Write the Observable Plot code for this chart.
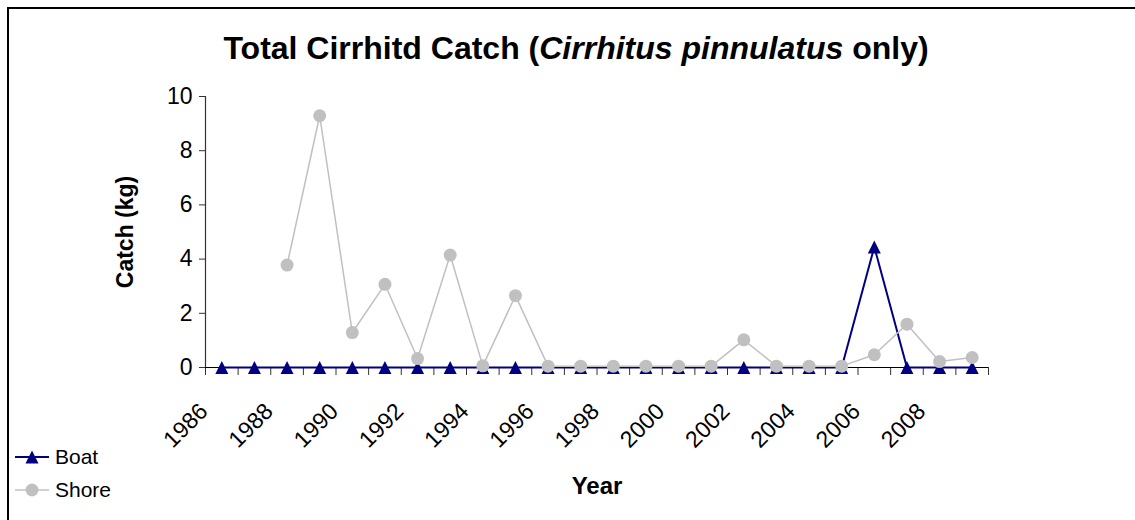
<!DOCTYPE html>
<html>
<head>
<meta charset="utf-8">
<script src="https://cdn.jsdelivr.net/npm/d3@7"></script>
<script src="https://cdn.jsdelivr.net/npm/@observablehq/plot@0.6"></script>
<style>
  html, body { margin: 0; padding: 0; background: #fff; }
  #wrap { position: relative; width: 1135px; height: 520px; overflow: hidden; font-family: "Liberation Sans", Arial, sans-serif; }
  #frame { position: absolute; left: 7px; top: 7px; width: 1200px; height: 600px; border-left: 2px solid #000; border-top: 2px solid #000; box-sizing: border-box; pointer-events: none; }
  #title { position: absolute; top: 0; left: 576px; transform: translateX(-50%); white-space: nowrap; height: 80px; line-height: 96px; font-size: 32px; font-weight: bold; color: #000; }
  #chart { position: absolute; left: 0; top: 80px; }
  #legend { position: absolute; left: 15px; top: 440px; font-size: 21px; color: #000; }
  .row { display: flex; align-items: center; height: 33px; }
  .row svg { margin-right: 6px; }
</style>
</head>
<body>
<div id="wrap">
  <div id="title">Total Cirrhitd Catch (<i>Cirrhitus pinnulatus</i> only)</div>
  <div id="chart"></div>
  <div id="legend"></div>
  <div id="frame"></div>
</div>
<script>
const years = d3.range(1986, 2010);
const boatValues = [0,0,0,0,0,0,0,0,0,0,0,0,0,0,0,0,0,0,0,0,4.45,0,0,0];
const shoreValues = [null,null,3.78,9.29,1.29,3.07,0.33,4.15,0.06,2.65,0.05,0.05,0.05,0.05,0.05,0.05,1.02,0.05,0.05,0.05,0.47,1.6,0.22,0.37];
const yTicks = [0, 2, 4, 6, 8, 10];
const xLabelYears = [1986,1988,1990,1992,1994,1996,1998,2000,2002,2004,2006,2008];
const seriesNames = ["Boat", "Shore"];
const seriesColors = ["#000080", "#C0C0C0"];

const boat = years.map((year, i) => ({year, value: boatValues[i]}));
const shore = years.map((year, i) => ({year, value: shoreValues[i]})).filter(d => d.value != null);
const boundaries = d3.range(years.length + 1).map(i => years[0] - 0.5 + i);

const triangle = {
  draw(context, size) {
    const r = Math.sqrt(size / Math.PI);
    context.moveTo(0, -r);
    context.lineTo(r, r);
    context.lineTo(-r, r);
    context.closePath();
  }
};

const chart = Plot.plot({
  width: 1135,
  height: 440,
  marginLeft: 205,
  marginRight: 147,
  marginTop: 16,
  marginBottom: 153,
  style: {fontFamily: "'Liberation Sans', Arial, sans-serif", color: "#000", background: "transparent"},
  x: {domain: [boundaries[0], boundaries[boundaries.length - 1]]},
  y: {domain: [0, 10]},
  marks: [
    Plot.ruleX([boundaries[0]], {stroke: "#333", strokeWidth: 1.2}),
    Plot.axisY({ticks: yTicks, tickSize: 6, tickPadding: 7, fontSize: 23, stroke: "#333", label: null}),
    Plot.axisX({ticks: boundaries, tickSize: 8, tickFormat: () => "", stroke: "#333", label: null}),
    Plot.axisX({ticks: xLabelYears, tickSize: 0, tickRotate: -45, tickPadding: 40, dx: -18, fontSize: 23, tickFormat: d => String(d), label: null}),
    Plot.ruleY([0], {stroke: "#000", strokeWidth: 1.2}),
    Plot.text(["Catch (kg)"], {frameAnchor: "left", textAnchor: "middle", rotate: -90, dx: -80, fontSize: 23, fontWeight: "bold"}),
    Plot.text(["Year"], {frameAnchor: "bottom", textAnchor: "middle", dy: 126, fontSize: 24, fontWeight: "bold"}),
    Plot.line(boat, {x: "year", y: "value", stroke: seriesColors[0], strokeWidth: 2}),
    Plot.dot(boat, {x: "year", y: "value", symbol: triangle, r: 6.5, fill: seriesColors[0], stroke: "none"}),
    Plot.line(shore, {x: "year", y: "value", stroke: seriesColors[1], strokeWidth: 1.5}),
    Plot.dot(shore, {x: "year", y: "value", r: 6.5, fill: seriesColors[1], stroke: "none"})
  ]
});
document.getElementById("chart").appendChild(chart);

const legend = d3.select("#legend");
seriesNames.forEach((name, i) => {
  const row = legend.append("div").attr("class", "row");
  const svg = row.append("svg").attr("width", 34).attr("height", 20);
  svg.append("line").attr("x1", 0).attr("x2", 34).attr("y1", 10).attr("y2", 10)
    .attr("stroke", seriesColors[i]).attr("stroke-width", i === 0 ? 2 : 1.5);
  if (i === 0) {
    svg.append("path").attr("d", "M17,3.5L23.5,16.5L10.5,16.5Z").attr("fill", seriesColors[i]);
  } else {
    svg.append("circle").attr("cx", 17).attr("cy", 10).attr("r", 6.5).attr("fill", seriesColors[i]);
  }
  row.append("span").text(name);
});
</script>
</body>
</html>
